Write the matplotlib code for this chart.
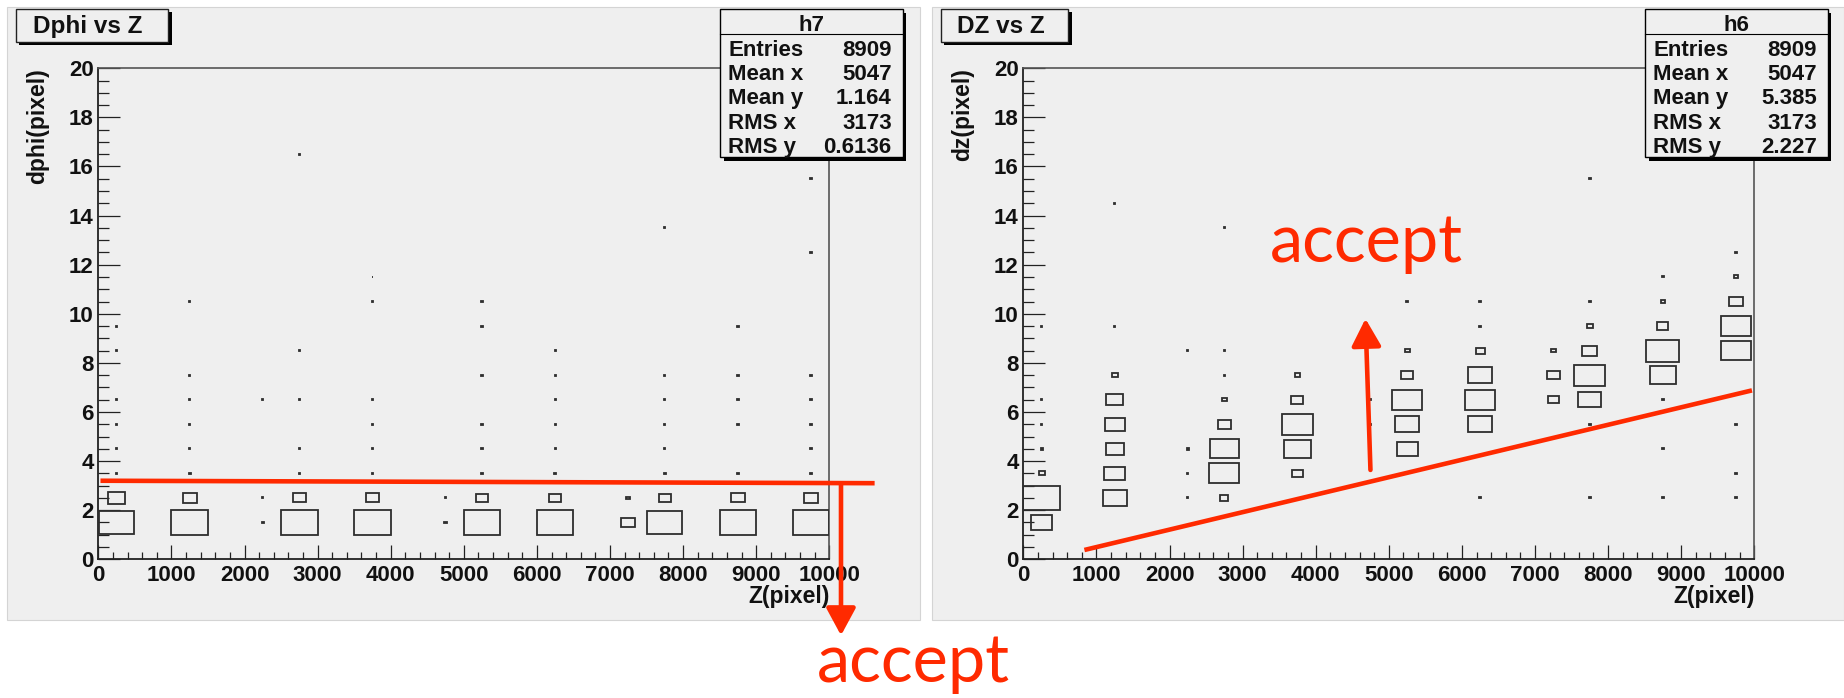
import numpy as np
import matplotlib.pyplot as plt
from matplotlib.patches import Rectangle
from matplotlib.ticker import MultipleLocator

plt.rcParams['font.family'] = ['Liberation Sans', 'DejaVu Sans']
plt.rcParams['font.weight'] = 'bold'

W, H = 1844, 698
RED = '#ff2a00'
PANEL = '#efefef'
BOXCOL = '#2e2e2e'
INK = '#111111'

# binning of both 2D histograms
z_bin = 500.0
d_bin = 1.0

# ---------- h7 : dphi vs Z (bin centres and bin contents) ----------
dphi_z = [250, 250, 250, 250, 250, 250, 250, 250,
          1250, 1250, 1250, 1250, 1250, 1250, 1250, 1250,
          2250, 2250, 2250,
          2750, 2750, 2750, 2750, 2750, 2750, 2750,
          3750, 3750, 3750, 3750, 3750, 3750, 3750, 3750,
          4750, 4750,
          5250, 5250, 5250, 5250, 5250, 5250, 5250, 5250,
          6250, 6250, 6250, 6250, 6250, 6250, 6250, 6250,
          7250, 7250,
          7750, 7750, 7750, 7750, 7750, 7750, 7750, 7750,
          8750, 8750, 8750, 8750, 8750, 8750, 8750,
          9750, 9750, 9750, 9750, 9750, 9750, 9750, 9750, 9750]
dphi_d = [1.5, 2.5, 3.5, 4.5, 5.5, 6.5, 8.5, 9.5,
          1.5, 2.5, 3.5, 4.5, 5.5, 6.5, 7.5, 10.5,
          1.5, 2.5, 6.5,
          1.5, 2.5, 3.5, 4.5, 6.5, 8.5, 16.5,
          1.5, 2.5, 3.5, 4.5, 5.5, 6.5, 10.5, 11.5,
          1.5, 2.5,
          1.5, 2.5, 3.5, 4.5, 5.5, 7.5, 9.5, 10.5,
          1.5, 2.5, 3.5, 4.5, 5.5, 6.5, 7.5, 8.5,
          1.5, 2.5,
          1.5, 2.5, 3.5, 4.5, 5.5, 6.5, 7.5, 13.5,
          1.5, 2.5, 3.5, 5.5, 6.5, 7.5, 9.5,
          1.5, 2.5, 3.5, 4.5, 5.5, 6.5, 7.5, 12.5, 15.5]
dphi_n = [700, 175, 2, 1, 1, 1, 1, 1,
          790, 120, 2, 1, 1, 1, 1, 1,
          3, 1, 1,
          785, 108, 1, 1, 1, 1, 1,
          780, 108, 2, 1, 1, 1, 1, 1,
          3, 1,
          775, 97, 2, 1, 1, 1, 1, 1,
          780, 86, 2, 1, 1, 1, 1, 1,
          114, 8,
          713, 91, 2, 1, 1, 1, 1, 1,
          774, 108, 1, 2, 1, 1, 1,
          785, 120, 1, 1, 1, 1, 1, 1, 1]

# ---------- h6 : dz vs Z ----------
dz_z = [250, 250, 250, 250, 250, 250, 250,
        1250, 1250, 1250, 1250, 1250, 1250, 1250, 1250,
        2250, 2250, 2250, 2250,
        2750, 2750, 2750, 2750, 2750, 2750, 2750, 2750,
        3750, 3750, 3750, 3750, 3750,
        4750, 4750, 4750,
        5250, 5250, 5250, 5250, 5250, 5250,
        6250, 6250, 6250, 6250, 6250, 6250, 6250,
        7250, 7250, 7250,
        7750, 7750, 7750, 7750, 7750, 7750, 7750, 7750,
        8750, 8750, 8750, 8750, 8750, 8750, 8750, 8750,
        9750, 9750, 9750, 9750, 9750, 9750, 9750, 9750]
dz_d = [1.5, 2.5, 3.5, 4.5, 5.5, 6.5, 9.5,
        2.5, 3.5, 4.5, 5.5, 6.5, 7.5, 9.5, 14.5,
        2.5, 3.5, 4.5, 8.5,
        2.5, 3.5, 4.5, 5.5, 6.5, 7.5, 8.5, 13.5,
        3.5, 4.5, 5.5, 6.5, 7.5,
        4.5, 5.5, 6.5,
        4.5, 5.5, 6.5, 7.5, 8.5, 10.5,
        2.5, 5.5, 6.5, 7.5, 8.5, 9.5, 10.5,
        6.5, 7.5, 8.5,
        2.5, 5.5, 6.5, 7.5, 8.5, 9.5, 10.5, 15.5,
        2.5, 4.5, 6.5, 7.5, 8.5, 9.5, 10.5, 11.5,
        2.5, 3.5, 5.5, 8.5, 9.5, 10.5, 11.5, 12.5]
dz_n = [229, 655, 17, 2, 1, 1, 1,
        275, 205, 164, 190, 138, 17, 1, 1,
        1, 1, 2, 1,
        29, 440, 405, 79, 13, 1, 1, 1,
        59, 360, 472, 72, 13,
        1, 1, 1,
        216, 275, 452, 66, 13, 1,
        1, 268, 430, 282, 39, 1, 1,
        59, 80, 12,
        1, 1, 262, 472, 111, 21, 1, 1,
        1, 1, 1, 347, 530, 59, 10, 1,
        1, 1, 1, 419, 440, 92, 10, 1]

stat_names = ['Entries', 'Mean x', 'Mean y', 'RMS x', 'RMS y']
h7_stats = ['8909', '5047', '1.164', '3173', '0.6136']
h6_stats = ['8909', '5047', '5.385', '3173', '2.227']

# hand-drawn cut lines and arrows, in data units
dphi_cut_z = [30, 10620]
dphi_cut_d = [3.2, 3.1]
dphi_arrow = ((10160, 3.1), (10160, -3.1))
dz_cut_z = [836, 9968]
dz_cut_d = [0.38, 6.88]
dz_arrow = ((4749, 3.64), (4681, 9.8))


def fx(px):
    return px / W


def fy(py):
    return 1 - py / H


def frect(x0, y0, x1, y1, **kw):
    r = Rectangle((fx(x0), fy(y1)), fx(x1) - fx(x0), fy(y0) - fy(y1),
                  transform=fig.transFigure, **kw)
    fig.add_artist(r)
    return r


def draw_boxes(ax, zs, ds, ns):
    nmax = max(ns)
    for z, d, n in zip(zs, ds, ns):
        f = np.sqrt(n / nmax)
        w, h = z_bin * f, d_bin * f
        ax.add_patch(Rectangle((z - w / 2, d - h / 2), w, h, fill=False,
                               ec=BOXCOL, lw=1.3, zorder=3))


def style_axes(ax, ylabel):
    ax.set_facecolor('none')
    ax.set_xlim(0, 10000)
    ax.set_ylim(0, 20)
    ax.xaxis.set_major_locator(MultipleLocator(1000))
    ax.xaxis.set_minor_locator(MultipleLocator(200))
    ax.yaxis.set_major_locator(MultipleLocator(2))
    ax.yaxis.set_minor_locator(MultipleLocator(0.5))
    ax.tick_params(which='both', direction='in', top=False, right=False,
                   color='#222222', width=0.9, labelsize=16, labelcolor=INK)
    ax.tick_params(axis='y', which='major', length=15.8, pad=3.2)
    ax.tick_params(axis='y', which='minor', length=7.9)
    ax.tick_params(axis='x', which='major', length=10, pad=4.0)
    ax.tick_params(axis='x', which='minor', length=5)
    for lab in ax.get_xticklabels() + ax.get_yticklabels():
        lab.set_fontweight('bold')
    for s in ['left', 'bottom']:
        ax.spines[s].set_color('#222222')
        ax.spines[s].set_linewidth(1.3)
    for s in ['top', 'right']:
        ax.spines[s].set_color('#555555')
        ax.spines[s].set_linewidth(1.2)
    ax.set_xlabel('Z(pixel)', loc='right', fontsize=16.5, fontweight='bold',
                  color=INK, va='center')
    ax.xaxis.set_label_coords(1.0, -0.076)
    ax.set_ylabel(ylabel, loc='top', fontsize=16.5, fontweight='bold',
                  color=INK, va='center')
    ax.yaxis.set_label_coords(-0.0825, 1.0)


def stats_box(x0, name, values):
    x1, y0, y1 = x0 + 182.7, 9.3, 156.7
    frect(x0 + 3.5, y0 + 4, x1 + 3.5, y1 + 4, fc='black', ec='none', zorder=5)
    frect(x0, y0, x1, y1, fc=PANEL, ec='black', lw=1.0, zorder=6)
    fig.add_artist(plt.Line2D([fx(x0), fx(x1)], [fy(34), fy(34)],
                              transform=fig.transFigure, color='black',
                              lw=0.8, zorder=7))
    fig.text(fx((x0 + x1) / 2), fy(31), name, ha='center', va='baseline',
             fontsize=16, fontweight='bold', color=INK, zorder=8)
    for i, (lab, val) in enumerate(zip(stat_names, values)):
        yb = 56 + 24.2 * i
        fig.text(fx(x0 + 8.3), fy(yb), lab, ha='left', va='baseline',
                 fontsize=16, fontweight='bold', color=INK, zorder=8)
        fig.text(fx(x1 - 11), fy(yb), val, ha='right', va='baseline',
                 fontsize=16, fontweight='bold', color=INK, zorder=8)


def title_box(x0, x1, text, xc):
    frect(x0 + 3.5, 9.3 + 3, x1 + 3.5, 41.7 + 3, fc='black', ec='none', zorder=5)
    frect(x0, 9.3, x1, 41.7, fc=PANEL, ec='#222222', lw=1.0, zorder=6)
    fig.text(fx(xc), fy(33.3), text, ha='center', va='baseline',
             fontsize=17.5, fontweight='bold', color=INK, zorder=8)


fig = plt.figure(figsize=(W / 100, H / 100), dpi=100)
fig.patch.set_facecolor('white')

# canvas pads
frect(7, 7, 920, 620, fc=PANEL, ec='#d4d4d4', lw=0.8, zorder=-5)
frect(932, 7, 1844, 620, fc=PANEL, ec='#d4d4d4', lw=0.8, zorder=-5)

ax1 = fig.add_axes([fx(98.3), fy(559.3), 731 / W, 491 / H])
ax2 = fig.add_axes([fx(1023.3), fy(559.3), 731 / W, 491 / H])

draw_boxes(ax1, dphi_z, dphi_d, dphi_n)
draw_boxes(ax2, dz_z, dz_d, dz_n)
style_axes(ax1, 'dphi(pixel)')
style_axes(ax2, 'dz(pixel)')

# cut lines with "accept" arrows
ax1.plot(dphi_cut_z, dphi_cut_d, color=RED, lw=3.3, clip_on=False,
         solid_capstyle='butt', zorder=10)
ax2.plot(dz_cut_z, dz_cut_d, color=RED, lw=3.3, clip_on=False,
         solid_capstyle='butt', zorder=10)
for ax, (tail, tip) in [(ax1, dphi_arrow), (ax2, dz_arrow)]:
    ax.annotate('', xy=tip, xytext=tail, annotation_clip=False,
                arrowprops=dict(arrowstyle='-|>,head_length=0.37,head_width=0.2',
                                mutation_scale=45, color=RED, lw=3.3,
                                shrinkA=0, shrinkB=0), zorder=10)

fig.text(fx(816.7), fy(681.7), 'accept', family=['Lato', 'DejaVu Sans'],
         weight='normal', fontsize=48, color=RED, ha='left', va='baseline')
fig.text(fx(1270), fy(261.7), 'accept', family=['Lato', 'DejaVu Sans'],
         weight='normal', fontsize=48, color=RED, ha='left', va='baseline',
         zorder=9)

stats_box(720, 'h7', h7_stats)
stats_box(1645, 'h6', h6_stats)
title_box(15.7, 168, 'Dphi vs Z', 87.5)
title_box(940.7, 1068.3, 'DZ vs Z', 1000.8)

fig.savefig('out.png', dpi=100)
